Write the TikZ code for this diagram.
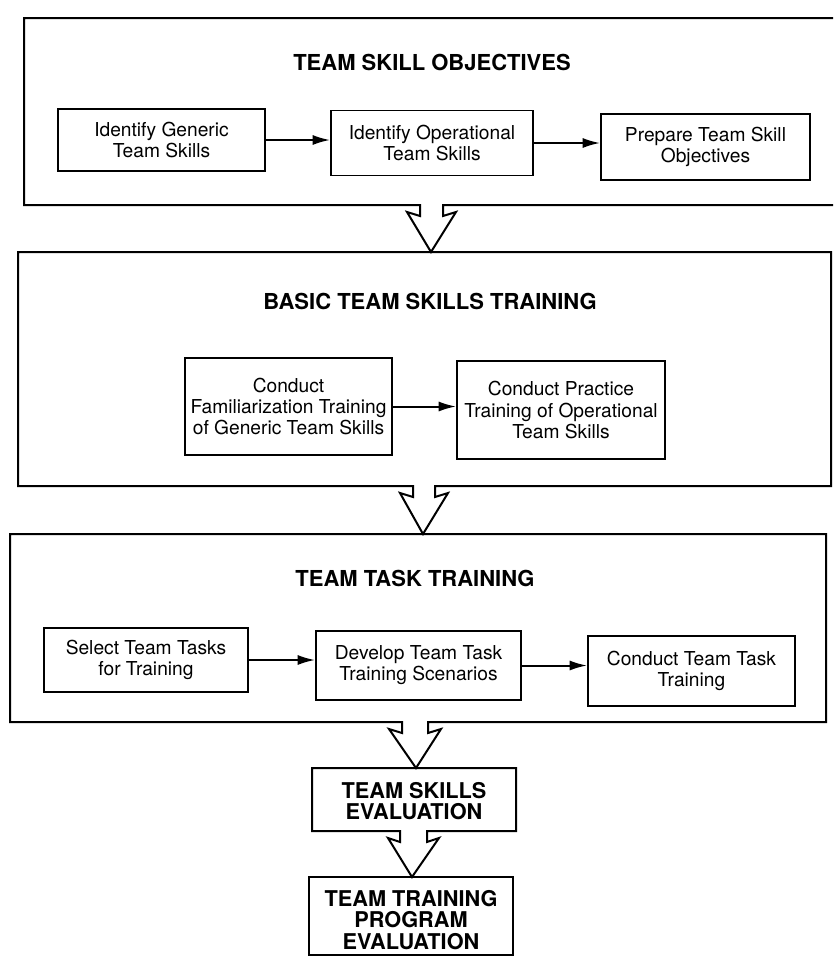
\documentclass[tikz,border=0pt]{standalone}
\usepackage{fontspec}
\setmainfont{TeX Gyre Heros}
\usetikzlibrary{arrows.meta}
\begin{document}
\begin{tikzpicture}[x=0.75pt,y=-0.75pt,
  frame/.style={line width=1.5pt, line join=miter},
  wh/.style 2 args={minimum width={#1*0.75pt}, minimum height={#2*0.75pt}},
  stepbox/.style={draw, line width=1.4pt, align=center, inner sep=0pt,
    font=\fontsize{14.4}{15.8}\selectfont},
  paneltitle/.style={font=\fontsize{16.5}{19}\selectfont\bfseries},
  evaltext/.style={align=center, inner sep=0pt,
    font=\fontsize{16.3}{16}\selectfont\bfseries},
  flow/.style={line width=1.5pt, -{Latex[length=13pt,width=7.5pt]}}
]
\useasboundingbox (0,0) rectangle (833,957);
\clip (0,0) rectangle (833,957);

% ---------- Team skill objectives ----------
\draw[frame] (443,205) -- (845,205) -- (845,18) -- (24,18) -- (24,205)
  -- (420,205) -- (420,216) -- (407,212) -- (431,252) -- (456,212)
  -- (443,216) -- cycle;
\node[paneltitle] (t1) at (432,62) {TEAM SKILL OBJECTIVES};
\node[stepbox, wh={207}{62}] (b11) at (161.5,140) {Identify Generic\\Team Skills};
\node[stepbox, wh={202}{65}] (b12) at (432,143) {Identify Operational\\Team Skills};
\node[stepbox, wh={209}{66}] (b13) at (705.5,147) {Prepare Team Skill\\Objectives};
\draw[flow] (b11.east) -- (b11.east -| b12.west);
\draw[flow] (b12.east) -- (b12.east -| b13.west);

% ---------- Basic team skills training ----------
\draw[frame] (435,486) -- (831,486) -- (831,252) -- (18,252) -- (18,486)
  -- (413,486) -- (413,497) -- (400,493) -- (423,534) -- (448,493)
  -- (435,497) -- cycle;
\node[paneltitle] (t2) at (430,301) {BASIC TEAM SKILLS TRAINING};
\node[stepbox, wh={207}{97}] (b21) at (288.5,406.5)
  {Conduct\\Familiarization Training\\of Generic Team Skills};
\node[stepbox, wh={208}{98}] (b22) at (561,410)
  {Conduct Practice\\Training of Operational\\Team Skills};
\draw[flow] (b21.east) -- (b21.east -| b22.west);

% ---------- Team task training ----------
\draw[frame] (428,722) -- (826,722) -- (826,534) -- (10,534) -- (10,722)
  -- (402,722) -- (402,733) -- (389,729) -- (416,768) -- (441,729)
  -- (428,733) -- cycle;
\node[paneltitle] (t3) at (415,578) {TEAM TASK TRAINING};
\node[stepbox, wh={204}{64}] (b31) at (146,660) {Select Team Tasks\\for Training};
\node[stepbox, wh={205}{69}] (b32) at (418.5,665.5) {Develop Team Task\\Training Scenarios};
\node[stepbox, wh={207}{70}] (b33) at (691.5,671) {Conduct Team Task\\Training};
\draw[flow] (b31.east) -- (b31.east -| b32.west);
\draw[flow] (b32.east) -- (b32.east -| b33.west);

% ---------- Evaluations ----------
\draw[frame] (427,831) -- (516,831) -- (516,768) -- (312,768) -- (312,831)
  -- (400,831) -- (400,842) -- (388,838) -- (412,877) -- (439,838)
  -- (427,842) -- cycle;
\node[evaltext] (e1) at (414,801) {TEAM SKILLS\\EVALUATION};
\draw[frame] (309,877) rectangle (513,955);
\node[evaltext] (e2) at (411,920) {TEAM TRAINING\\PROGRAM\\EVALUATION};
\end{tikzpicture}
\end{document}
